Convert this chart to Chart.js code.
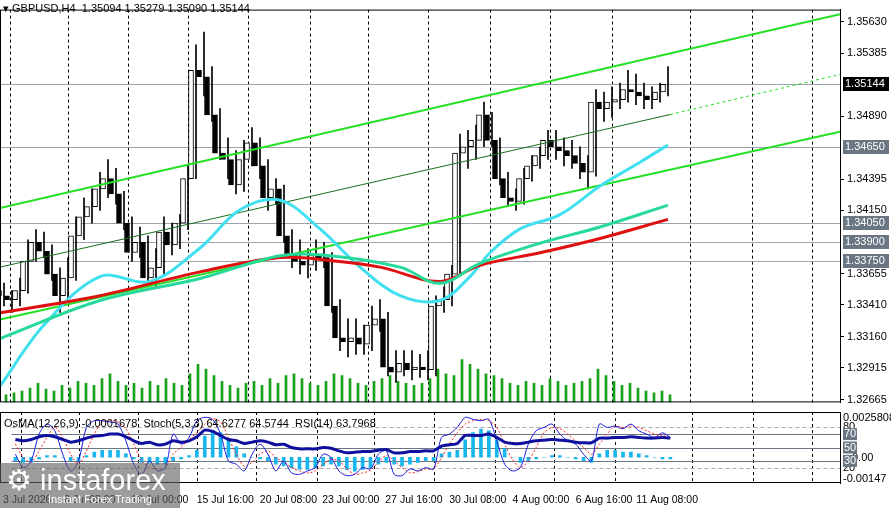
<!DOCTYPE html>
<html><head><meta charset="utf-8">
<script src="https://cdn.jsdelivr.net/npm/chart.js@4"></script>
<style>
body{margin:0;background:#fff;width:891px;height:508px;overflow:hidden;position:relative;font-family:"Liberation Sans",Arial,sans-serif}
.t{position:absolute;font-size:11px;color:#000;white-space:pre}
#logo{position:absolute;left:0;top:463px;width:180px;height:45px;background:rgba(95,95,95,0.62);color:#fff}
</style></head><body>
<div style="position:absolute;left:0;top:0;width:891px;height:412px"><canvas id="c1"></canvas></div>
<div style="position:absolute;left:0;top:412px;width:891px;height:96px"><canvas id="c2"></canvas></div>
<div class="t" style="left:3px;top:2px">▾ GBPUSD,H4  1.35094 1.35279 1.35090 1.35144</div>
<div class="t" style="left:4px;top:417px">OsMA(12,26,9) -0,0001678  Stoch(5,3,3) 64.6277 64.5744  RSI(14) 63.7968</div>
<div id="logo"><div style="position:absolute;left:6px;top:0px;font-size:29px;letter-spacing:0px">⚙ instaforex</div><div style="position:absolute;left:48px;top:30px;font-size:11px">Instant Forex Trading</div></div>
<script>
const closes=[1.3348,1.3345,1.3352,1.3375,1.3390,1.3383,1.3365,1.3348,1.3362,1.3395,1.3410,1.3418,1.3432,1.3440,1.3428,1.3405,1.3382,1.3390,1.3362,1.3370,1.3398,1.3388,1.3405,1.3440,1.3525,1.3520,1.3490,1.3460,1.3455,1.3435,1.3455,1.3468,1.3450,1.3425,1.3432,1.3395,1.3380,1.3375,1.3372,1.3380,1.3378,1.3340,1.3315,1.3312,1.3315,1.3310,1.3325,1.3330,1.3292,1.3288,1.3295,1.3290,1.3292,1.3290,1.3340,1.3345,1.3365,1.3460,1.3465,1.3470,1.3490,1.3470,1.3440,1.3425,1.3422,1.3440,1.3450,1.3458,1.3470,1.3465,1.3462,1.3458,1.3452,1.3445,1.3500,1.3495,1.3500,1.3502,1.3510,1.3508,1.3505,1.3502,1.3508,1.3514];
const firstOpen=1.3352;
const highs=[1.3358,1.3352,1.3362,1.3392,1.3400,1.3398,1.3388,1.3370,1.3378,1.3410,1.3425,1.3432,1.3445,1.3455,1.3448,1.3430,1.3410,1.3402,1.3395,1.3385,1.3410,1.3405,1.3412,1.3450,1.3545,1.3555,1.3528,1.3495,1.3472,1.3462,1.3470,1.3480,1.3472,1.3455,1.3440,1.3435,1.3400,1.3392,1.3385,1.3392,1.3390,1.3382,1.3345,1.3330,1.3330,1.3325,1.3340,1.3345,1.3335,1.3305,1.3305,1.3305,1.3302,1.3305,1.3348,1.3355,1.3372,1.3475,1.3478,1.3482,1.3500,1.3492,1.3472,1.3445,1.3432,1.3448,1.3458,1.3465,1.3478,1.3478,1.3472,1.3470,1.3465,1.3458,1.3510,1.3508,1.3512,1.3515,1.3525,1.3522,1.3515,1.3512,1.3515,1.3528];
const lows=[1.3340,1.3335,1.3340,1.3350,1.3375,1.3378,1.3360,1.3335,1.3345,1.3360,1.3392,1.3405,1.3415,1.3425,1.3420,1.3400,1.3375,1.3378,1.3355,1.3355,1.3365,1.3380,1.3385,1.3400,1.3440,1.3505,1.3485,1.3455,1.3440,1.3428,1.3430,1.3450,1.3440,1.3415,1.3420,1.3390,1.3370,1.3365,1.3362,1.3368,1.3370,1.3335,1.3305,1.3300,1.3302,1.3302,1.3305,1.3320,1.3285,1.3280,1.3285,1.3282,1.3284,1.3282,1.3285,1.3335,1.3340,1.3365,1.3448,1.3455,1.3465,1.3465,1.3435,1.3418,1.3415,1.3420,1.3438,1.3448,1.3455,1.3455,1.3450,1.3448,1.3440,1.3432,1.3442,1.3485,1.3488,1.3495,1.3500,1.3498,1.3495,1.3495,1.3500,1.3505];
const volumes=[8,10,12,15,20,14,12,18,15,22,20,18,25,30,22,18,20,15,22,18,25,20,18,30,40,35,28,22,18,15,20,22,18,25,20,28,30,25,20,18,22,30,28,25,20,18,22,25,28,22,20,18,20,25,35,30,28,45,40,35,30,28,25,20,18,22,20,18,25,22,18,20,22,25,35,28,22,18,20,15,12,10,12,8];
const maFast=[[-0.5,1.32770],[5,1.3325],[12,1.33631],[18.25,1.33593],[24.5,1.33855],[29.5,1.34155],[34.5,1.34230],[39.5,1.34005],[44.5,1.33705],[49.5,1.33481],[54.5,1.33443],[58.25,1.33631],[60.75,1.33818],[64.5,1.34005],[69.5,1.34117],[74.5,1.34342],[79.5,1.34529],[83,1.34664]];
const maMid=[[-0.5,1.33144],[12,1.33443],[24.5,1.33616],[34.5,1.33795],[40.75,1.33795],[49.5,1.33705],[54.5,1.33578],[59.5,1.33735],[67,1.33893],[74.5,1.34020],[83,1.34192]];
const maSlow=[[-0.5,1.33346],[12,1.33481],[24.5,1.33668],[34.5,1.33780],[40.75,1.33758],[47,1.33705],[54.5,1.33593],[59.5,1.33720],[67,1.33818],[74.5,1.33930],[83,1.34080]];
const chanUpper=[[-0.5,1.34170],[104.5,1.35690]];
const chanMid=[[-0.5,1.33705],[83.25,1.34903]];
const chanMidExt=[[83.25,1.34903],[104.5,1.35218]];
const chanLower=[[-0.5,1.33294],[104.5,1.34769]];
const levels=[1.35144,1.34650,1.34050,1.33900,1.33750];
const priceTicks=[1.35630,1.35385,1.34890,1.34395,1.34150,1.33655,1.33410,1.33160,1.32915,1.32665];
const gridIdx=[0.75,8,15.5,23,30.5,38.25,45.5,53,60.75,68.25,76,85.75,93.5,101];
const dateLabels=["3 Jul 2026","8 Jul 08:00","13 Jul 00:00","15 Jul 16:00","20 Jul 08:00","23 Jul 00:00","27 Jul 16:00","30 Jul 08:00","4 Aug 00:00","6 Aug 16:00","11 Aug 08:00"];
const dateIdx=[1.5,9.4,18.3,26.6,34.6,42.5,50.5,58.6,66.6,74.6,82.6];
const rsi=[62,60,62,66,68,66,62,58,60,64,67,68,70,70,66,60,56,58,54,55,60,58,60,66,76,74,68,62,60,56,58,60,58,54,55,50,48,48,48,50,49,45,42,43,44,44,46,47,42,42,44,44,45,45,52,54,56,68,68,68,70,65,58,56,56,58,60,61,62,61,60,58,57,57,64,64,65,65,66,65,64,64,65,64];
const stochMain=[40,20,30,70,85,75,40,15,30,80,90,90,88,85,60,25,10,30,15,20,70,55,65,90,95,92,70,30,25,15,40,55,40,15,30,12,10,15,20,40,35,15,8,10,20,18,40,45,10,8,18,15,20,18,65,70,80,95,92,90,92,60,25,15,20,55,75,80,85,70,60,55,40,30,85,80,82,78,85,75,70,65,72,65];
const stochSig=[55,35,28,45,65,80,65,40,25,45,70,88,90,88,78,55,30,20,18,20,40,50,62,72,85,93,88,65,40,22,28,40,45,35,28,20,15,12,15,25,32,30,18,10,12,16,28,38,30,20,12,14,18,18,35,55,72,85,90,92,90,80,55,32,20,30,50,72,80,78,70,60,50,40,55,70,82,80,82,80,75,70,68,65];
const osma=[-0.0002,-0.0003,-0.0003,-0.0001,0.0001,0.0001,0.0,-0.0002,-0.0002,0.0001,0.0003,0.0004,0.0004,0.0004,0.0002,-0.0001,-0.0003,-0.0003,-0.0004,-0.0004,-0.0002,-0.0001,0.0001,0.0004,0.0012,0.0015,0.0014,0.0010,0.0006,0.0002,0.0,-0.0001,-0.0002,-0.0004,-0.0005,-0.0006,-0.0007,-0.0007,-0.0006,-0.0005,-0.0004,-0.0005,-0.0007,-0.0008,-0.0007,-0.0006,-0.0004,-0.0003,-0.0004,-0.0005,-0.0004,-0.0003,-0.0002,-0.0002,0.0002,0.0003,0.0004,0.0010,0.0014,0.0016,0.0015,0.0010,0.0005,0.0,-0.0003,-0.0002,-0.0001,0.0,0.0001,0.0001,0.0,-0.0001,-0.0002,-0.0003,0.0002,0.0004,0.0004,0.0003,0.0003,0.0002,0.0001,0.0,-0.0001,-0.0001];

const F='"Liberation Sans", Arial, sans-serif';
const opens=closes.map((c,i)=>i===0?firstOpen:closes[i-1]);
const pts=a=>a.map(p=>({x:p[0],y:p[1]}));
const line=(d,color,w,extra)=>Object.assign({type:'line',data:pts(d),borderColor:color,borderWidth:w,pointRadius:0,tension:0.35,yAxisID:'y',order:1},extra||{});

const frame={id:'frame',beforeDatasetsDraw(ch,a,o){const {ctx,chartArea:c,scales}=ch;ctx.save();
 ctx.strokeStyle='#000';ctx.lineWidth=1;ctx.setLineDash([3,3]);
 gridIdx.forEach(g=>{const x=Math.round(scales.x.getPixelForValue(g))+0.5;ctx.beginPath();ctx.moveTo(x,c.top);ctx.lineTo(x,c.bottom);ctx.stroke();});
 ctx.setLineDash([]);
 if(o.levels){ctx.strokeStyle='#9aa3ab';levels.forEach(l=>{const y=Math.round(scales.y.getPixelForValue(l))+0.5;ctx.beginPath();ctx.moveTo(c.left,y);ctx.lineTo(c.right,y);ctx.stroke();});}
 if(o.osc){ctx.strokeStyle='#aaa';ctx.setLineDash([4,3]);[80,20].forEach(v=>{const y=Math.round(scales.yo.getPixelForValue(v))+0.5;ctx.beginPath();ctx.moveTo(c.left,y);ctx.lineTo(c.right,y);ctx.stroke();});
  ctx.setLineDash([]);ctx.strokeStyle='#6a7682';[70,50,30].forEach(v=>{const y=Math.round(scales.yo.getPixelForValue(v))+0.5;ctx.beginPath();ctx.moveTo(c.left,y);ctx.lineTo(c.right,y);ctx.stroke();});}
 ctx.restore();},
 afterDraw(ch,a,o){const {ctx,chartArea:c,scales}=ch;ctx.save();ctx.strokeStyle='#000';ctx.lineWidth=1;ctx.strokeRect(0.5,c.top+0.5,c.right,c.bottom-c.top-1);
 ctx.font='11px '+F;ctx.textBaseline='middle';
 if(o.levels){levels.forEach((l,i)=>{const y=Math.round(scales.y.getPixelForValue(l));ctx.fillStyle=i===0?'#000':'#6a7682';ctx.fillRect(c.right+3,y-7,46,14);ctx.fillStyle='#fff';ctx.fillText(l.toFixed(5),c.right+5,y);});}
 if(o.osc){ctx.fillStyle='#000';ctx.fillText('0.0025808',c.right+3,c.top+6);ctx.fillText('-0.00147',c.right+3,c.bottom-4);ctx.fillText('0.00',c.right+12,scales.ys.getPixelForValue(0)+1);
  [80,20].forEach(v=>{ctx.fillStyle='#000';ctx.fillText(String(v),c.right+3,scales.yo.getPixelForValue(v));});
  [70,50,30].forEach(v=>{const y=scales.yo.getPixelForValue(v);ctx.fillStyle='#6a7682';ctx.fillRect(c.right+3,y-6,14,12);ctx.fillStyle='#fff';ctx.fillText(String(v),c.right+4,y);});}
 ctx.restore();}};

const xCommon={type:'linear',min:-0.5,max:104.5,offset:false};
new Chart(document.getElementById('c1'),{
 data:{datasets:[
  {type:'bar',data:volumes.map((v,i)=>({x:i,y:v})),backgroundColor:'#1aa01a',barThickness:2,yAxisID:'yv',order:5},
  line(chanUpper,'#22e022',2,{tension:0}),
  line(chanMid,'#1a6e1a',1,{tension:0}),
  line(chanMidExt,'#22e022',1,{tension:0,borderDash:[3,3]}),
  line(chanLower,'#22e022',2,{tension:0}),
  {type:'bar',data:highs.map((h,i)=>({x:i,y:[lows[i],h]})),backgroundColor:'#000',barThickness:1,yAxisID:'y',order:3},
  {type:'bar',data:closes.map((c,i)=>({x:i,y:[opens[i],c]})),backgroundColor:closes.map((c,i)=>c>=opens[i]?'#fff':'#000'),borderColor:'#000',borderWidth:1,borderSkipped:false,barThickness:5,yAxisID:'y',order:2},
  line(maMid,'#27d99a',3,{order:0}),
  line(maSlow,'#e01010',3,{order:0}),
  line(maFast,'#40e0f0',3,{order:0})
 ]},
 options:{responsive:true,maintainAspectRatio:false,animation:false,layout:{padding:0},
  plugins:{legend:{display:false},tooltip:{enabled:false},frame:{levels:true}},
  scales:{x:Object.assign({display:false},xCommon),
   y:{position:'right',min:1.32643,max:1.35727,afterFit:s=>{s.width=51},afterBuildTicks:s=>{s.ticks=priceTicks.map(v=>({value:v}))},
    ticks:{font:{family:F,size:11},color:'#000',padding:3,callback:v=>v.toFixed(5)},grid:{drawOnChartArea:false,drawTicks:true,tickLength:4,color:'#000'},border:{color:'#000'}},
   yv:{display:false,min:0,max:412}}},
 plugins:[frame]});

new Chart(document.getElementById('c2'),{
 data:{datasets:[
  {type:'bar',data:osma.map((v,i)=>({x:i,y:v})),backgroundColor:'#19b6ee',barThickness:3,yAxisID:'ys',order:5},
  {type:'line',data:stochSig.map((v,i)=>({x:i,y:v})),borderColor:'#ff2020',borderWidth:1,borderDash:[2,2],pointRadius:0,tension:0.3,yAxisID:'yo',order:2},
  {type:'line',data:stochMain.map((v,i)=>({x:i,y:v})),borderColor:'#1c1cdc',borderWidth:1,pointRadius:0,tension:0.3,yAxisID:'yo',order:1},
  {type:'line',data:rsi.map((v,i)=>({x:i,y:v})),borderColor:'#1010a0',borderWidth:3,pointRadius:0,tension:0.2,yAxisID:'yo',order:0}
 ]},
 options:{responsive:true,maintainAspectRatio:false,animation:false,layout:{padding:0},
  plugins:{legend:{display:false},tooltip:{enabled:false},frame:{osc:true}},
  scales:{x:Object.assign({position:'bottom',afterFit:s=>{s.height=25},afterBuildTicks:s=>{s.ticks=dateIdx.map(v=>({value:v}))},
    ticks:{font:{family:F,size:10.5},color:'#000',maxRotation:0,autoSkip:false,callback:(v,i)=>dateLabels[i]},grid:{display:false},border:{display:false}},xCommon),
   yo:{position:'right',min:-3,max:103,afterFit:s=>{s.width=51},ticks:{display:false},grid:{display:false},border:{color:'#000'}},
   ys:{display:false,min:-0.00147,max:0.0025808}}},
 plugins:[frame]});
</script></body></html>
